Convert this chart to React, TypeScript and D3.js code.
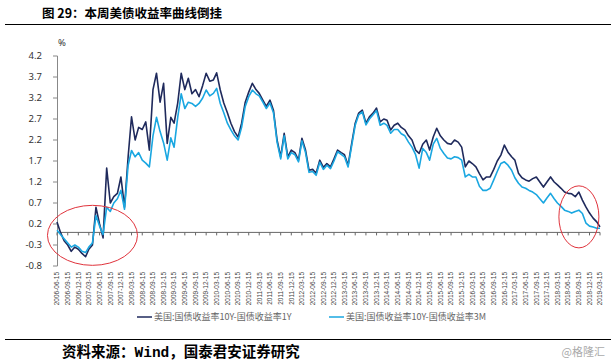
import React from 'react';
import * as d3 from 'd3';

// 月度读数：2006-06-15 起，至 2019-03-15
const spread10y1y = [
  0.25, 0.0, -0.2, -0.3, -0.45, -0.35, -0.4, -0.5, -0.58, -0.4,
  -0.3, 0.6, 0.2, -0.13, 1.53, 0.7, 0.85, 0.93, 1.32, 0.6,
  1.8, 2.75, 2.2, 2.5, 2.45, 2.63, 1.96, 3.4, 3.79, 3.1,
  3.55, 2.12, 2.74, 2.6, 3.08, 3.79, 3.4, 3.67, 3.3, 3.4,
  3.23, 3.5, 3.79, 3.6, 3.63, 3.8, 3.39, 3.08, 2.85, 2.6,
  2.4, 2.27, 2.6, 3.1, 3.34, 3.55, 3.4, 3.31, 3.15, 3.0,
  3.15, 2.91, 2.2, 1.8, 2.36, 1.8, 1.96, 1.9, 1.72, 2.24,
  1.96, 1.48, 1.5, 1.41, 1.72, 1.55, 1.64, 1.56, 1.75, 1.96,
  1.9, 1.85, 1.6, 2.1, 2.6, 2.84, 2.91, 2.6, 2.75, 2.84,
  2.96, 2.63, 2.7, 2.67, 2.44, 2.55, 2.6, 2.5, 2.44, 2.3,
  2.2, 1.96, 1.88, 2.1, 2.2, 1.96, 2.27, 2.48, 2.3, 2.2,
  2.12, 2.1, 2.2, 2.15, 2.03, 1.56, 1.7, 1.64, 1.56, 1.4,
  1.25, 1.32, 1.32, 1.5, 1.7, 1.84, 2.08, 1.91, 1.8, 1.72,
  1.41, 1.3, 1.25, 1.22, 1.28, 1.32, 1.2, 1.08, 1.2, 1.32,
  1.2, 1.13, 1.05, 0.96, 0.93, 0.92, 0.85, 0.96, 0.77, 0.6,
  0.46, 0.34, 0.25, 0.13
];

const spread10y3m = [
  0.05, -0.05, -0.15, -0.25, -0.35, -0.3, -0.35, -0.45, -0.48, -0.35,
  -0.25, 0.4, 0.15, -0.05, 0.6, 0.5, 0.7, 0.8, 1.0, 0.55,
  1.6, 1.95, 1.8, 1.9, 1.72, 1.65, 1.56, 2.3, 2.74, 2.4,
  2.13, 1.72, 2.25, 2.03, 2.74, 3.3, 2.95, 3.1, 3.07, 3.0,
  3.07, 3.2, 3.39, 3.25, 3.31, 3.43, 3.07, 2.85, 2.6, 2.44,
  2.3, 2.2, 2.5, 3.0, 3.23, 3.39, 3.3, 3.25, 3.1, 2.95,
  3.08, 2.85, 2.15, 1.75, 2.3, 1.75, 1.9, 1.85, 1.68, 2.18,
  1.9, 1.43, 1.45, 1.36, 1.67, 1.5, 1.6, 1.52, 1.7, 1.92,
  1.86, 1.8, 1.56, 2.05, 2.55, 2.8, 2.87, 2.56, 2.7, 2.8,
  2.9, 2.55, 2.6, 2.55, 2.36, 2.45, 2.45, 2.35, 2.3, 2.15,
  2.03, 1.85, 1.53, 2.0, 1.9, 1.72, 2.1, 2.24, 2.0, 1.88,
  1.77, 1.75, 1.8, 1.78, 1.72, 1.32, 1.38, 1.32, 1.32, 1.1,
  1.0, 1.0, 1.05, 1.25, 1.45, 1.64, 1.68, 1.6, 1.48, 1.3,
  1.17, 1.08, 1.05, 1.0, 0.96, 0.9, 0.8, 0.7, 0.82, 0.93,
  0.8, 0.7, 0.62, 0.53, 0.5, 0.46, 0.5, 0.53, 0.45, 0.22,
  0.15, 0.13, 0.1, 0.1
];

const yTicks = [-0.8, -0.3, 0.2, 0.7, 1.2, 1.7, 2.2, 2.7, 3.2, 3.7, 4.2];
const seriesNames = ['美国:国债收益率10Y-国债收益率1Y', '美国:国债收益率10Y-国债收益率3M'];
const seriesColors = ['#1f2a5c', '#1aa7e1'];

const startDate = new Date(2006, 5, 15);
const dates = spread10y1y.map((_, i) => d3.timeMonth.offset(startDate, i));
const tickDates = d3.range(0, dates.length, 3).map(i => dates[i]);

export default function App() {
  const W = 611, H = 364;
  const x = d3.scaleTime().domain([dates[0], dates[dates.length - 1]]).range([57, 600]);
  const y = d3.scaleLinear().domain([-0.8, 4.2]).range([266, 56]);
  const fmt = d3.timeFormat('%Y-%m-%d');

  const line = d3.line<number>()
    .x((_, i) => x(dates[i]))
    .y(d => y(d));

  const y0 = y(0);

  return (
    <svg width={W} height={H} style={{ position: 'absolute', left: 0, top: 0, background: '#fff' }}>
      {/* 标题 */}
      <text x={42} y={18} fontSize={12.5} fontWeight="bold" fill="#000"
        fontFamily="'Noto Sans CJK SC', sans-serif">图 29：本周美债收益率曲线倒挂</text>
      <line x1={5} x2={611} y1={24.5} y2={24.5} stroke="#000" strokeWidth={1} />

      <text x={58} y={46} fontSize={9.5} fill="#333" fontFamily="'Noto Sans', sans-serif">%</text>

      {/* y 轴 */}
      <line x1={57.5} x2={57.5} y1={y(4.2)} y2={y(-0.8)} stroke="#888" />
      {yTicks.map(t => (
        <g key={t}>
          <line x1={53} x2={57.5} y1={y(t)} y2={y(t)} stroke="#888" />
          <text x={42} y={y(t)} dy="0.35em" textAnchor="end" fontSize={9.5} fill="#333"
            fontFamily="'Noto Sans', sans-serif">{t.toFixed(1)}</text>
        </g>
      ))}

      {/* x 轴（在 0 处） */}
      <line x1={57} x2={600} y1={y0} y2={y0} stroke="#666" />
      {tickDates.map((d, i) => (
        <g key={i}>
          <line x1={x(d)} x2={x(d)} y1={y0} y2={y0 + 3} stroke="#666" />
          <text transform={`translate(${x(d)},272) rotate(-90)`} dy="0.35em" textAnchor="end"
            fontSize={6.5} fill="#444" fontFamily="'Liberation Sans', sans-serif">{fmt(d)}</text>
        </g>
      ))}

      {/* 曲线 */}
      <path d={line(spread10y1y) || ''} fill="none" stroke={seriesColors[0]} strokeWidth={1.6} strokeLinejoin="round" />
      <path d={line(spread10y3m) || ''} fill="none" stroke={seriesColors[1]} strokeWidth={1.6} strokeLinejoin="round" />

      {/* 红圈标注 */}
      <ellipse cx={x(dates[10])} cy={y(-0.07)} rx={45} ry={30} fill="none" stroke="#e0333c" strokeWidth={1} />
      <ellipse cx={x(dates[147])} cy={y(0.37)} rx={20} ry={31} fill="none" stroke="#e0333c" strokeWidth={1} />

      {/* 图例 */}
      {seriesNames.map((name, i) => {
        const lx = i === 0 ? 137 : 329;
        return (
          <g key={name}>
            <line x1={lx} x2={lx + 15} y1={317} y2={317} stroke={seriesColors[i]} strokeWidth={1.5} />
            <text x={lx + 17} y={317} dy="0.35em" fontSize={9} fill="#666"
              fontFamily="'Noto Sans CJK SC', sans-serif">{name}</text>
          </g>
        );
      })}

      {/* 来源 */}
      <line x1={5} x2={611} y1={339.5} y2={339.5} stroke="#000" strokeWidth={1} />
      <text x={62} y={357} fontSize={14.5} fontWeight="bold" fill="#000"
        fontFamily="'Noto Sans CJK SC', sans-serif">
        资料来源：<tspan fontFamily="'Liberation Mono', monospace">Wind</tspan>，国泰君安证券研究
      </text>
      <text x={605} y={356} textAnchor="end" fontSize={11} fill="#aaa"
        fontFamily="'Noto Sans CJK SC', sans-serif">@格隆汇</text>
    </svg>
  );
}
